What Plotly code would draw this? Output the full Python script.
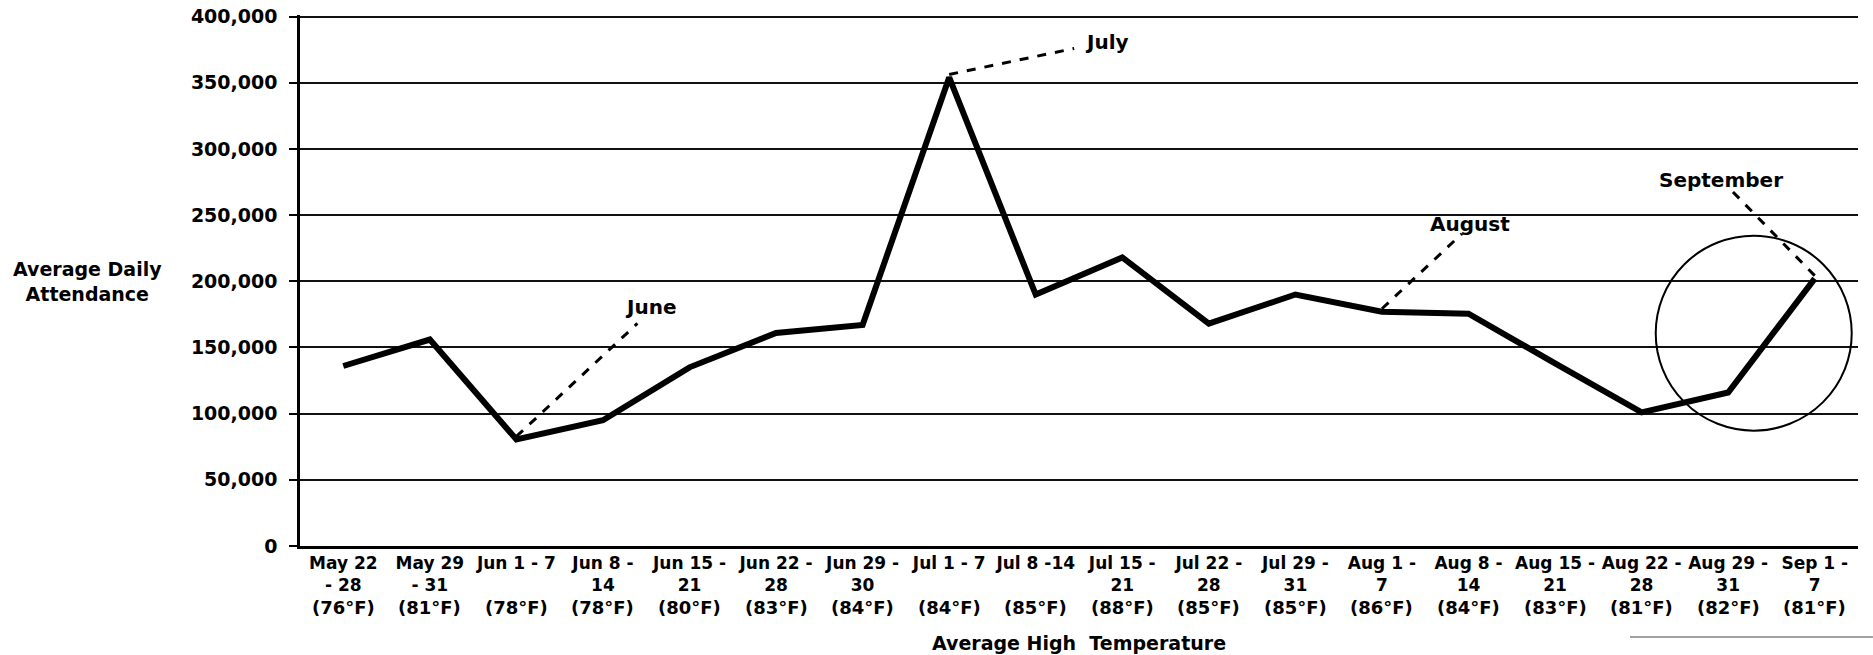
import plotly.graph_objects as go

categories = ["May 22 - 28", "May 29 - 31", "Jun 1 - 7", "Jun 8 - 14", "Jun 15 - 21",
              "Jun 22 - 28", "Jun 29 - 30", "Jul 1 - 7", "Jul 8 -14", "Jul 15 - 21",
              "Jul 22 - 28", "Jul 29 - 31", "Aug 1 - 7", "Aug 8 - 14", "Aug 15 - 21",
              "Aug 22 - 28", "Aug 29 - 31", "Sep 1 - 7"]
tick_labels = ["May 22<br>- 28", "May 29<br>- 31", "Jun 1 - 7<br> ", "Jun 8 -<br>14",
               "Jun 15 -<br>21", "Jun 22 -<br>28", "Jun 29 -<br>30", "Jul 1 - 7<br> ",
               "Jul 8 -14<br> ", "Jul 15 -<br>21", "Jul 22 -<br>28", "Jul 29 -<br>31",
               "Aug 1 -<br>7", "Aug 8 -<br>14", "Aug 15 -<br>21", "Aug 22 -<br>28",
               "Aug 29 -<br>31", "Sep 1 -<br>7"]
temperatures = ["(76°F)", "(81°F)", "(78°F)", "(78°F)", "(80°F)", "(83°F)", "(84°F)",
                "(84°F)", "(85°F)", "(88°F)", "(85°F)", "(85°F)", "(86°F)", "(84°F)",
                "(83°F)", "(81°F)", "(82°F)", "(81°F)"]
attendance = [136000, 156000, 80500, 95000, 135000, 161000, 167000, 354000, 190000,
              218000, 168000, 190000, 177000, 175500, 138000, 101000, 116000, 202000]
y_ticks = [0, 50000, 100000, 150000, 200000, 250000, 300000, 350000, 400000]
y_tick_labels = ["0", "50,000", "100,000", "150,000", "200,000", "250,000",
                 "300,000", "350,000", "400,000"]

# callouts: (category index, label, line end dx, dy, text dx, dy)
callouts = [
    (2, "June", 121, 116, 134, 132),
    (7, "July", 125, 29, 158, 35),
    (12, "August", 80, 78, 88, 88),
    (17, "September", -86, 91, -94, 99),
]

FONT = "DejaVu Sans"
fig = go.Figure()
fig.add_trace(go.Scatter(
    x=categories, y=attendance, mode="lines",
    line=dict(color="black", width=6), hoverinfo="skip", showlegend=False))

shapes = []
annotations = []
for idx, label, lx, ly, tx, ty in callouts:
    shapes.append(dict(type="line", xref="x", yref="y", xsizemode="pixel", ysizemode="pixel",
                       xanchor=categories[idx], yanchor=attendance[idx],
                       x0=0, y0=3, x1=lx, y1=ly,
                       line=dict(color="black", width=3, dash="dash")))
    annotations.append(dict(x=categories[idx], y=attendance[idx], xref="x", yref="y",
                            text=label, showarrow=False, xshift=tx, yshift=ty,
                            font=dict(family=FONT, size=20, color="black", weight="bold")))

# circle around September rise
shapes.append(dict(type="circle", xref="x", yref="y", xsizemode="pixel", ysizemode="pixel",
                   xanchor=categories[17], yanchor=attendance[17],
                   x0=-159, x1=37, y0=-152, y1=43,
                   line=dict(color="black", width=2)))
# stray scan line bottom right
shapes.append(dict(type="line", xref="paper", yref="paper",
                   x0=(1630 - 300) / 1558, x1=1.0096, y0=-(637 - 546) / 531, y1=-(637 - 546) / 531,
                   line=dict(color="#444", width=1)))

for c, t in zip(categories, temperatures):
    annotations.append(dict(x=c, y=0, xref="x", yref="paper", yanchor="middle",
                            yshift=-61, text=t, showarrow=False,
                            font=dict(family=FONT, size=18, color="black", weight="bold")))

annotations.append(dict(x=(88 - 300) / 1558, y=(546 - 281) / 531, xref="paper", yref="paper",
                        text="Average Daily<br>Attendance", showarrow=False,
                        xanchor="center", yanchor="middle",
                        font=dict(family=FONT, size=19, color="black", weight="bold")))
annotations.append(dict(x=0.5, y=0, xref="paper", yref="paper", yshift=-97, yanchor="middle",
                        text="Average High  Temperature", showarrow=False,
                        font=dict(family=FONT, size=19, color="black", weight="bold")))

fig.update_layout(
    width=1873, height=655,
    margin=dict(l=300, r=15, t=15, b=109),
    plot_bgcolor="white", paper_bgcolor="white",
    shapes=shapes, annotations=annotations,
    xaxis=dict(type="category", range=[-0.5, 17.5], tickvals=categories, ticktext=tick_labels,
               showgrid=False, showline=True, linecolor="black", linewidth=2.5,
               ticks="", tickfont=dict(family=FONT, size=17, color="black", weight="bold"),
               ticklabelstandoff=0, automargin=False),
    yaxis=dict(range=[0, 401200], tickvals=y_ticks, ticktext=y_tick_labels,
               showgrid=True, gridcolor="#111", gridwidth=1.5, zeroline=False,
               showline=True, linecolor="black", linewidth=2.5,
               ticks="outside", ticklen=8, tickwidth=2, tickcolor="black",
               ticklabelstandoff=8, automargin=False,
               tickfont=dict(family=FONT, size=19, color="black", weight="bold")),
)

fig.write_html("out.html", config={"displayModeBar": False},
               post_script="document.body.style.margin='0';")
